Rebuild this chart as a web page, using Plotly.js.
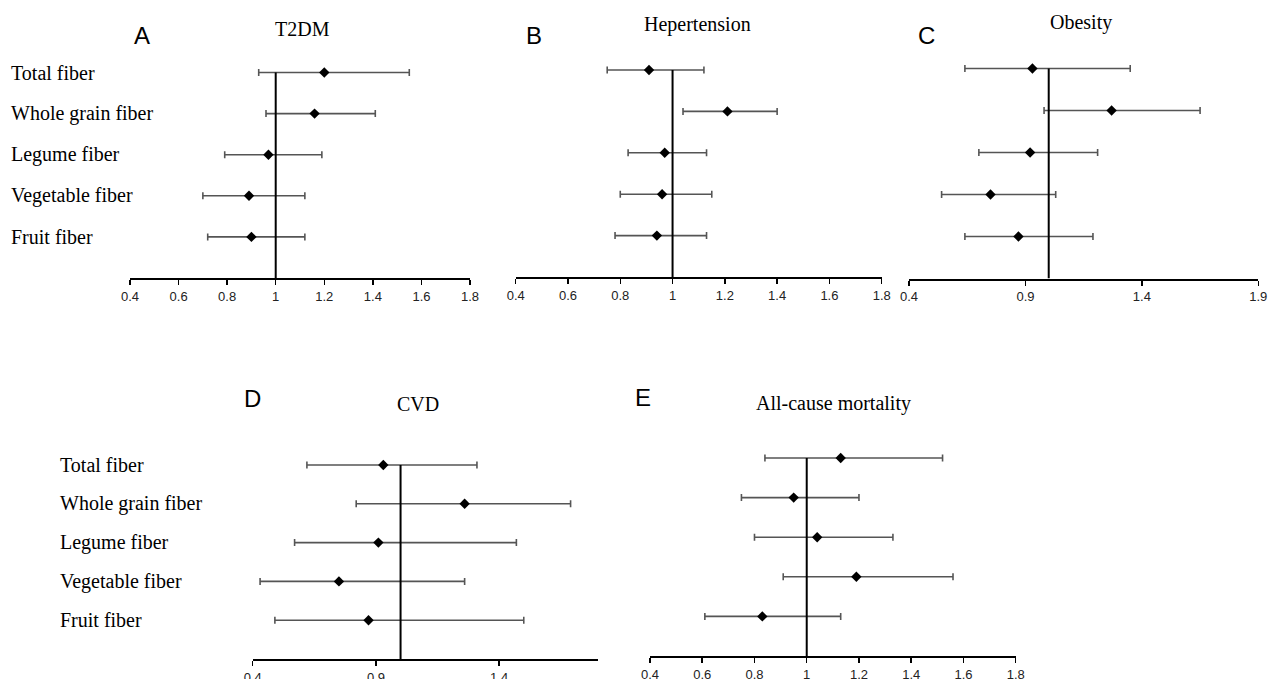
<!DOCTYPE html>
<html>
<head>
<meta charset="utf-8">
<script src="https://cdn.plot.ly/plotly-3.0.1.min.js"></script>
<style>html,body{margin:0;padding:0;background:#fff;}#chart{width:1268px;height:679px;}</style>
</head>
<body>
<div id="chart"></div>
<script>
// ---- data ----
const categories = ["Total fiber", "Whole grain fiber", "Legume fiber", "Vegetable fiber", "Fruit fiber"];
const panelLetters = ["A", "B", "C", "D", "E"];
const panelTitles = ["T2DM", "Hepertension", "Obesity", "CVD", "All-cause mortality"];

const t2dmEst   = [1.20, 1.16, 0.97, 0.89, 0.90];
const t2dmLow   = [0.93, 0.96, 0.79, 0.70, 0.72];
const t2dmHigh  = [1.55, 1.41, 1.19, 1.12, 1.12];

const htnEst    = [0.91, 1.21, 0.97, 0.96, 0.94];
const htnLow    = [0.75, 1.04, 0.83, 0.80, 0.78];
const htnHigh   = [1.12, 1.40, 1.13, 1.15, 1.13];

const obesEst   = [0.93, 1.27, 0.92, 0.75, 0.87];
const obesLow   = [0.64, 0.98, 0.70, 0.54, 0.64];
const obesHigh  = [1.35, 1.65, 1.21, 1.03, 1.19];

const cvdEst    = [0.93, 1.26, 0.91, 0.75, 0.87];
const cvdLow    = [0.62, 0.82, 0.57, 0.43, 0.49];
const cvdHigh   = [1.31, 1.69, 1.47, 1.26, 1.50];

const mortEst   = [1.13, 0.95, 1.04, 1.19, 0.83];
const mortLow   = [0.84, 0.75, 0.80, 0.91, 0.61];
const mortHigh  = [1.52, 1.20, 1.33, 1.56, 1.13];

const xRanges = [[0.4, 1.8], [0.4, 1.8], [0.4, 1.9], [0.4, 1.8], [0.4, 1.8]];
const xDticks = [0.2, 0.2, 0.5, 0.5, 0.2];
const refValue = 1;

// ---- layout geometry (pixels) ----
const W = 1268, H = 679;
const px = v => v / W;
const py = v => 1 - v / H;
const panels = [
  {est: t2dmEst, low: t2dmLow, high: t2dmHigh, xl: 130, xr: 470, axisY: 278, row: 41.1,
   letter: [142, 35], title: [302, 29], labelsX: 9},
  {est: htnEst, low: htnLow, high: htnHigh, xl: 515.7, xr: 881.7, axisY: 277, row: 41.4,
   letter: [534, 35], title: [697, 25], labelsX: null},
  {est: obesEst, low: obesLow, high: obesHigh, xl: 909, xr: 1258.3, axisY: 278.5, row: 42,
   letter: [926, 35], title: [1081, 23], labelsX: null},
  {est: cvdEst, low: cvdLow, high: cvdHigh, xl: 252.7, xr: 597.7, axisY: 659, row: 38.8,
   letter: [252.7, 398], title: [417.7, 404], labelsX: 58},
  {est: mortEst, low: mortLow, high: mortHigh, xl: 650, xr: 1015.7, axisY: 656, row: 39.6,
   letter: [643, 397], title: [833.3, 403], labelsX: null}
];

const nRows = categories.length;
const rowY = categories.map((c, i) => nRows - i); // top row = 5
const yTop = 5.8;

const data = [];
const layout = {
  width: W, height: H,
  margin: {l: 0, r: 0, t: 0, b: 0},
  paper_bgcolor: "#ffffff", plot_bgcolor: "rgba(0,0,0,0)",
  showlegend: false,
  annotations: [], shapes: []
};

panels.forEach((p, k) => {
  const n = k + 1;
  const xa = n === 1 ? "x" : "x" + n;
  const ya = n === 1 ? "y" : "y" + n;
  const xKey = n === 1 ? "xaxis" : "xaxis" + n;
  const yKey = n === 1 ? "yaxis" : "yaxis" + n;

  data.push({
    type: "scatter", mode: "markers",
    x: p.est, y: rowY, xaxis: xa, yaxis: ya,
    marker: {symbol: "diamond", size: 8, color: "#000000"},
    error_x: {
      type: "data", symmetric: false,
      array: p.high.map((h, i) => h - p.est[i]),
      arrayminus: p.est.map((e, i) => e - p.low[i]),
      color: "#555555", thickness: 1.6, width: 3.5
    },
    hoverinfo: "x"
  });

  layout[xKey] = {
    domain: [px(p.xl), px(p.xr)],
    range: xRanges[k], anchor: ya,
    tick0: 0.4, dtick: xDticks[k], tickmode: "linear",
    showline: true, linecolor: "#000000", linewidth: 2,
    ticks: "outside", ticklen: 5, tickwidth: 1.5, tickcolor: "#000000",
    showgrid: false, zeroline: false,
    tickfont: {family: "Liberation Sans, Arial, sans-serif", size: 13, color: "#222222"}
  };
  layout[yKey] = {
    domain: [py(p.axisY), py(p.axisY - p.row * yTop)],
    range: [0, yTop], anchor: xa,
    visible: false, showgrid: false, zeroline: false
  };

  layout.shapes.push({
    type: "line", xref: xa, yref: ya,
    x0: refValue, x1: refValue, y0: 0, y1: rowY[0],
    line: {color: "#000000", width: 2}
  });

  layout.annotations.push({
    xref: "paper", yref: "paper", x: px(p.letter[0]), y: py(p.letter[1]),
    text: panelLetters[k], showarrow: false, xanchor: "center", yanchor: "middle",
    font: {family: "Liberation Sans, Arial, sans-serif", size: 24, color: "#000000"}
  });
  layout.annotations.push({
    xref: "paper", yref: "paper", x: px(p.title[0]), y: py(p.title[1]),
    text: panelTitles[k], showarrow: false, xanchor: "center", yanchor: "middle",
    font: {family: "Liberation Serif, Times New Roman, serif", size: 20, color: "#000000"}
  });

  if (p.labelsX !== null) {
    categories.forEach((c, i) => {
      layout.annotations.push({
        xref: "paper", yref: ya, x: px(p.labelsX), y: rowY[i],
        text: c, showarrow: false, xanchor: "left", yanchor: "middle",
        font: {family: "Liberation Serif, Times New Roman, serif", size: 20, color: "#000000"}
      });
    });
  }
});

Plotly.newPlot("chart", data, layout, {displayModeBar: false, staticPlot: true});
</script>
</body>
</html>
